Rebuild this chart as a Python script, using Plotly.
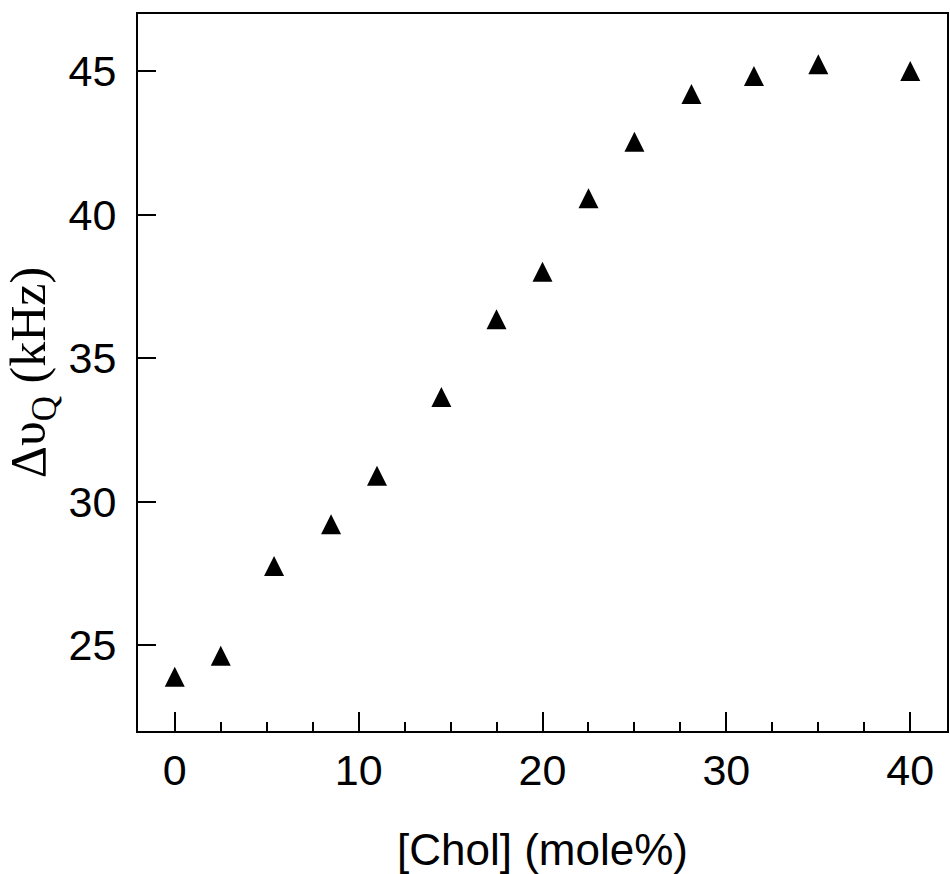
import plotly.graph_objects as go

# Data
chol = [0, 2.5, 5.4, 8.5, 11, 14.5, 17.5, 20, 22.5, 25, 28.1, 31.5, 35, 40]
dnu_q = [23.89, 24.62, 27.75, 29.21, 30.90, 33.65, 36.36, 38.01, 40.58, 42.55, 44.21, 44.84, 45.25, 45.01]

x_ticks = [0, 10, 20, 30, 40]
y_ticks = [25, 30, 35, 40, 45]

Y_RANGE = [22, 47]
X_RANGE = [-2, 42]

W, H = 950, 874
M = dict(l=138, r=3, t=14, b=143)
MARKER_SIZE = 20
plot_h = H - M["t"] - M["b"]
# arrow-up marker has its apex at the data point; shift an overlay axis so the
# triangle's centre sits on the value
half = (MARKER_SIZE / 2) * (Y_RANGE[1] - Y_RANGE[0]) / plot_h
Y2_RANGE = [Y_RANGE[0] - half, Y_RANGE[1] - half]

sans = "Liberation Sans, Arial, sans-serif"
serif = "Liberation Serif, Times New Roman, serif"

fig = go.Figure()
fig.add_trace(go.Scatter(
    x=chol, y=dnu_q, mode="markers", yaxis="y2",
    marker=dict(symbol="arrow-up", size=MARKER_SIZE, color="black",
                line=dict(width=0)),
    showlegend=False,
))
# invisible trace to anchor the primary y axis
fig.add_trace(go.Scatter(x=[None], y=[None], showlegend=False))

fig.update_layout(
    width=W, height=H, margin=M,
    paper_bgcolor="white", plot_bgcolor="white",
    xaxis=dict(
        range=X_RANGE, tickmode="array", tickvals=x_ticks,
        ticks="inside", ticklen=19, tickwidth=2, tickcolor="black",
        minor=dict(dtick=2.5, ticks="inside", ticklen=9, tickwidth=2, tickcolor="black", showgrid=False),
        showline=True, linewidth=2, linecolor="black", mirror=True,
        showgrid=False, zeroline=False,
        tickfont=dict(family=sans, size=43, color="black"),
        ticklabelstandoff=0,
        title=dict(text="[Chol] (mole%)", font=dict(family=sans, size=44, color="black"), standoff=46),
        automargin=False,
    ),
    yaxis=dict(
        range=Y_RANGE, tickmode="array", tickvals=y_ticks,
        ticks="inside", ticklen=18, tickwidth=2, tickcolor="black",
        showline=True, linewidth=2, linecolor="black", mirror=True,
        showgrid=False, zeroline=False,
        tickfont=dict(family=sans, size=43, color="black"),
        ticklabelstandoff=11,
        title=dict(text="\u0394\u03c5<sub>Q</sub> (kHz)", font=dict(family=serif, size=50, color="black"), standoff=12),
        automargin=False,
    ),
    yaxis2=dict(
        range=Y2_RANGE, overlaying="y", visible=False, showgrid=False, zeroline=False,
    ),
)

fig.write_html("out.html")
